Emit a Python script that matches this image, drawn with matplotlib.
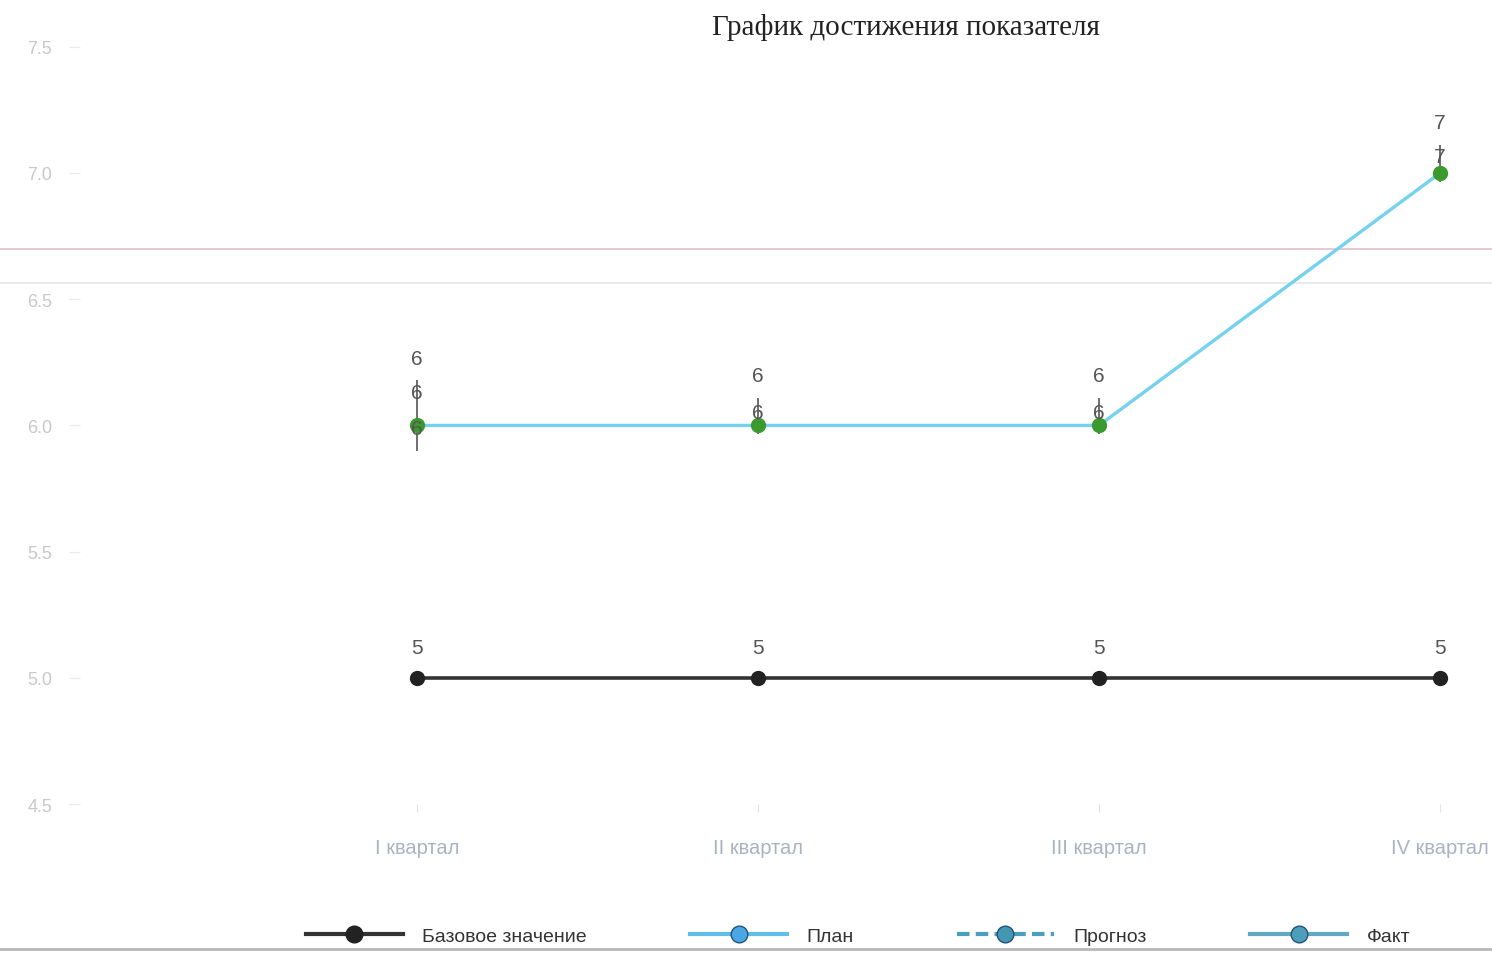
import matplotlib
matplotlib.use("Agg")
import matplotlib.pyplot as plt
from matplotlib.lines import Line2D

# ---- data ----
categories = ["I квартал", "II квартал", "III квартал", "IV квартал"]
base_values = [5, 5, 5, 5]
plan_values = [6, 6, 6, 7]
forecast_values = [6, 6, 6, 7]
fact_values = [6, 6, 6, 7]
fact_err_low = [0.10, 0.035, 0.035, 0.035]
fact_err_high = [0.18, 0.11, 0.11, 0.11]
ref_lines = [6.70, 6.565]
y_ticks = [4.5, 5.0, 5.5, 6.0, 6.5, 7.0, 7.5]
title = "График достижения показателя"
legend_labels = ["Базовое значение", "План", "Прогноз", "Факт"]

plt.rcParams['font.family'] = ['Liberation Sans', 'DejaVu Sans']

fig = plt.figure(figsize=(14.92, 9.54), dpi=100)
ax = fig.add_axes([0.0536, 0.156, 0.9384, 0.794])
x = list(range(len(categories)))

# reference horizontal lines spanning full width
ax.axhline(ref_lines[0], xmin=-0.06, xmax=1.01, color="#e3bfc8", lw=1.2, clip_on=False, zorder=1)
ax.axhline(ref_lines[1], xmin=-0.06, xmax=1.01, color="#e6e6e6", lw=1.2, clip_on=False, zorder=1)

# base line
ax.plot(x, base_values, color="#333333", lw=2.6, marker="o", ms=10,
        mfc="#222222", mec="#222222", zorder=4)
# plan line
ax.plot(x, plan_values, color="#74d2ee", lw=2.4, zorder=3)
# forecast (hidden under plan), fact markers
ax.plot(x, forecast_values, color="#74d2ee", lw=1.0, ls="--", zorder=3)
ax.errorbar(x, fact_values, yerr=[fact_err_low, fact_err_high], fmt="none",
            ecolor="#555555", elinewidth=1.2, zorder=5)
ax.plot(x, fact_values, ls="none", marker="o", ms=10, mfc="#3b9a2e",
        mec="#3b9a2e", zorder=6)

lab_kw = dict(textcoords="offset points", ha="center", va="center",
              fontsize=15, color="#555555", zorder=7)
for xi, v in zip(x, base_values):
    ax.annotate(f"{v}", (xi, v), xytext=(0, 22), **lab_kw)
first_off = [48, 36, 36, 36]
second_off = [24, 9, 9, 12]
for i, (xi, v) in enumerate(zip(x, plan_values)):
    ax.annotate(f"{v}", (xi, v), xytext=(0, first_off[i]), **lab_kw)
    ax.annotate(f"{forecast_values[i]}", (xi, v), xytext=(0, second_off[i]), **lab_kw)
ax.annotate(f"{fact_values[0]}", (0, fact_values[0]), xytext=(0, -2), **lab_kw)

ax.set_xlim(-0.988, 3.117)
ax.set_ylim(4.5, 7.5)
ax.set_xticks(x)
ax.set_xticklabels(categories, fontsize=14.5, color="#aab3c2")
ax.set_yticks(y_ticks)
ax.set_yticklabels([f"{t:.1f}" for t in y_ticks], fontsize=13, color="#c8c8c8")
ax.tick_params(axis="x", length=6, color="#e4e4e4", pad=18)
ax.tick_params(axis="y", length=8, color="#eaeaea", pad=12)
for s in ax.spines.values():
    s.set_visible(False)

fig.text(0.607, 0.971, title, ha="center", va="center", family="Liberation Serif",
         fontsize=21, color="#222222")

handles = [
    Line2D([], [], color="#333333", lw=3, marker="o", ms=12, mfc="#222222", mec="#222222"),
    Line2D([], [], color="#5fbde8", lw=3, marker="o", ms=12, mfc="#4aa7e6", mec="#27507a"),
    Line2D([], [], color="#4a9ec0", lw=3, ls=(0, (3, 1.5)), marker="o", ms=12, mfc="#4497b0", mec="#27507a"),
    Line2D([], [], color="#62a8c2", lw=3, marker="o", ms=12, mfc="#4b9fb8", mec="#27507a"),
]
fig.legend(handles, legend_labels, loc="center", bbox_to_anchor=(0.575, 0.018),
           ncol=4, frameon=False, fontsize=14, handlelength=5.0, handletextpad=1.0,
           columnspacing=5.3, labelcolor="#333333")

fig.add_artist(Line2D([0, 1], [0.004, 0.004], color="#b8b8b8", lw=2))

fig.savefig("out.png", dpi=100, facecolor="white")
